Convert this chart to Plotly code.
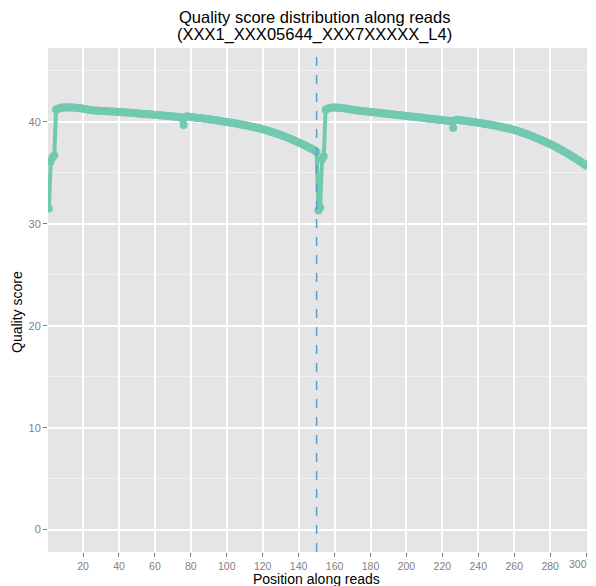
import plotly.graph_objects as go

positions = list(range(1, 301))

read1_quality = [
    31.5, 36.1, 36.5, 36.7, 41.2, 41.3, 41.35, 41.4, 41.4, 41.4,
    41.42, 41.43, 41.42, 41.41, 41.4, 41.38, 41.37, 41.35, 41.33, 41.3,
    41.27, 41.24, 41.2, 41.17, 41.15, 41.13, 41.12, 41.1, 41.09, 41.08,
    41.07, 41.06, 41.05, 41.04, 41.03, 41.02, 41.01, 41.0, 40.99, 40.98,
    40.96, 40.95, 40.94, 40.92, 40.91, 40.9, 40.88, 40.87, 40.86, 40.84,
    40.83, 40.81, 40.8, 40.78, 40.77, 40.75, 40.74, 40.72, 40.71, 40.7,
    40.68, 40.66, 40.65, 40.63, 40.62, 40.6, 40.58, 40.57, 40.55, 40.54,
    40.52, 40.5, 40.48, 40.45, 40.3, 39.7, 40.5, 40.55, 40.5, 40.48,
    40.45, 40.43, 40.41, 40.39, 40.37, 40.35, 40.33, 40.3, 40.28, 40.26,
    40.23, 40.21, 40.18, 40.16, 40.13, 40.1, 40.08, 40.05, 40.02, 40.0,
    39.97, 39.94, 39.91, 39.88, 39.85, 39.82, 39.78, 39.75, 39.72, 39.68,
    39.65, 39.61, 39.57, 39.53, 39.49, 39.45, 39.41, 39.37, 39.32, 39.28,
    39.23, 39.18, 39.13, 39.08, 39.02, 38.96, 38.9, 38.84, 38.78, 38.72,
    38.65, 38.58, 38.51, 38.44, 38.37, 38.3, 38.22, 38.14, 38.06, 37.98,
    37.9, 37.82, 37.73, 37.65, 37.56, 37.47, 37.38, 37.28, 37.18, 37.05,
]

read2_quality = [
    31.3, 31.6, 36.3, 36.6, 41.2, 41.3, 41.35, 41.38, 41.4, 41.4,
    41.4, 41.39, 41.38, 41.36, 41.34, 41.31, 41.28, 41.25, 41.22, 41.19,
    41.16, 41.14, 41.12, 41.1, 41.08, 41.06, 41.04, 41.02, 41.0, 40.98,
    40.96, 40.94, 40.92, 40.9, 40.88, 40.86, 40.84, 40.82, 40.8, 40.78,
    40.76, 40.74, 40.72, 40.7, 40.68, 40.66, 40.64, 40.62, 40.6, 40.58,
    40.56, 40.54, 40.52, 40.5, 40.48, 40.46, 40.44, 40.42, 40.4, 40.38,
    40.36, 40.34, 40.32, 40.3, 40.28, 40.26, 40.24, 40.22, 40.2, 40.18,
    40.16, 40.14, 40.12, 40.1, 40.05, 39.4, 40.15, 40.2, 40.18, 40.16,
    40.14, 40.12, 40.1, 40.08, 40.05, 40.02, 40.0, 39.98, 39.95, 39.92,
    39.89, 39.86, 39.83, 39.8, 39.77, 39.74, 39.71, 39.68, 39.65, 39.62,
    39.58, 39.54, 39.5, 39.46, 39.42, 39.38, 39.34, 39.3, 39.25, 39.2,
    39.15, 39.1, 39.04, 38.98, 38.92, 38.86, 38.8, 38.73, 38.66, 38.59,
    38.52, 38.45, 38.38, 38.3, 38.22, 38.14, 38.06, 37.98, 37.9, 37.82,
    37.73, 37.64, 37.55, 37.46, 37.37, 37.27, 37.17, 37.07, 36.97, 36.87,
    36.76, 36.65, 36.54, 36.43, 36.32, 36.2, 36.08, 35.96, 35.84, 35.72,
]

quality = read1_quality + read2_quality
read_boundary = 150

x_ticks = [20, 40, 60, 80, 100, 120, 140, 160, 180, 200, 220, 240, 260, 280, 300]
y_ticks = [0, 10, 20, 30, 40]
y_minor = [5, 15, 25, 35, 45]

title_line1 = "Quality score distribution along reads"
title_line2 = "(XXX1_XXX05644_XXX7XXXXX_L4)"
x_title = "Position along reads"
y_title = "Quality score"

line_color = "rgb(114,201,177)"
font_family = "Liberation Sans, Arial, sans-serif"

fig = go.Figure()
fig.add_trace(go.Scatter(
    x=positions, y=quality, mode="lines+markers",
    line=dict(color=line_color, width=4),
    marker=dict(color=line_color, size=8),
    showlegend=False, hoverinfo="x+y",
))

fig.add_vline(x=read_boundary, line=dict(color="#5b9ec9", width=1.5, dash="dash"))

axis_font = dict(family=font_family, size=10.5, color="#7f7f7f")

# page has an 8px body margin; size the figure so the panel lands where the reference's does
OFF = 8
W, H = 596 - OFF, 586 - OFF
L, R, T, B = 48 - OFF, 9, 48 - OFF, 34
PW, PH = W - L - R, H - T - B


def py(page_y):
    fy = page_y - OFF
    return (H - B - fy) / PH


def px(page_x):
    fx = page_x - OFF
    return (fx - L) / PW


# the last tick label sits on the right edge; draw it as right-anchored text so it is not clipped
x_ticktext = [str(v) for v in x_ticks[:-1]] + [""]

fig.update_layout(
    width=W, height=H,
    margin=dict(l=L, r=R, t=T, b=B, autoexpand=False),
    paper_bgcolor="white",
    plot_bgcolor="#e5e5e5",
    xaxis=dict(
        range=[0.5, 300.5], tickvals=x_ticks, ticktext=x_ticktext,
        showgrid=True, gridcolor="white", gridwidth=2, automargin=False,
        zeroline=False, ticks="outside", ticklen=4, tickcolor="#7f7f7f", tickwidth=1,
        tickfont=axis_font, ticklabeloverflow="allow",
    ),
    yaxis=dict(
        range=[-2.2, 47.25], tickvals=y_ticks, ticktext=[str(v) for v in y_ticks],
        showgrid=True, gridcolor="white", gridwidth=2, automargin=False,
        minor=dict(tickvals=y_minor, showgrid=True, gridcolor="#f2f2f2", gridwidth=1, ticks=""),
        zeroline=False, ticks="outside", ticklen=4, tickcolor="#7f7f7f", tickwidth=1,
        tickfont=dict(family=font_family, size=11, color="#7f7f7f"),
    ),
    annotations=[
        dict(text=title_line1, xref="paper", yref="paper", x=px(314), y=py(16.5),
             xanchor="center", yanchor="middle", showarrow=False,
             font=dict(family=font_family, size=16.5, color="black")),
        dict(text=title_line2, xref="paper", yref="paper", x=px(314), y=py(34),
             xanchor="center", yanchor="middle", showarrow=False,
             font=dict(family=font_family, size=16.5, color="black")),
        dict(text=x_title, xref="paper", yref="paper", x=px(316), y=py(579),
             xanchor="center", yanchor="middle", showarrow=False,
             font=dict(family=font_family, size=14, color="black")),
        dict(text=y_title, xref="paper", yref="paper", x=px(17), y=py(312),
             xanchor="center", yanchor="middle", showarrow=False, textangle=-90,
             font=dict(family=font_family, size=14, color="black")),
        dict(text=str(x_ticks[-1]), xref="x", yref="paper", x=x_ticks[-1], y=py(564),
             xanchor="right", yanchor="middle", xshift=3, showarrow=False,
             font=axis_font),
    ],
)

fig.write_html("out.html")
